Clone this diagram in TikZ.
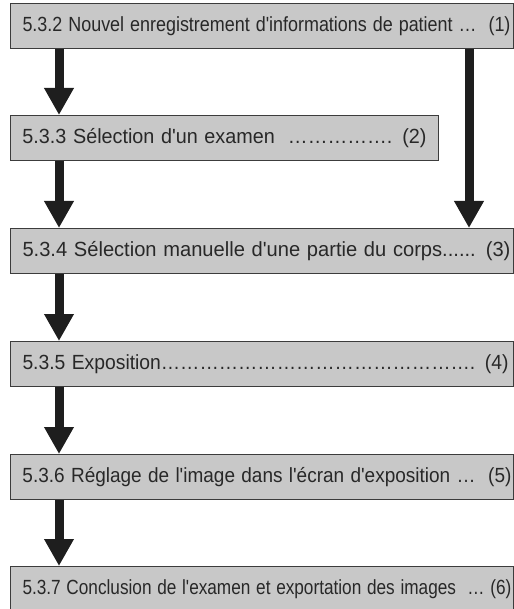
\documentclass[tikz,border=0pt]{standalone}
\usepackage{fontspec}
\usepackage{graphicx}
\setmainfont{Liberation Sans}[Ligatures=TeXOff]
\usetikzlibrary{arrows.meta}
\definecolor{boxfill}{RGB}{200,200,200}
\definecolor{boxline}{RGB}{60,60,60}
\definecolor{txt}{RGB}{40,40,40}
\definecolor{arr}{RGB}{30,30,30}
\newcommand{\fitline}[2]{\resizebox{#1}{\height}{#2}}
\begin{document}
\begin{tikzpicture}[x=1pt,y=-1pt,
  stepbox/.style={draw=boxline, fill=boxfill, line width=1pt, anchor=north west,
    minimum height=45pt, inner xsep=12pt, inner ysep=0pt, text=txt,
    font=\fontsize{20.5}{24}\selectfont, align=left},
  flow/.style={draw=arr, line width=9pt,
    -{Triangle[width=28pt,length=27pt]}}]
\useasboundingbox (0,0) rectangle (513,609);
\node[stepbox, text width=479pt] (b1) at (10,3) {\fitline{488pt}{5.3.2 Nouvel enregistrement d'informations de patient …\ \ (1)}};
\node[stepbox, text width=404pt] (b2) at (10,115) {\fitline{404pt}{5.3.3 Sélection d'un examen\ \ ……………. (2)}};
\node[stepbox, text width=479pt] (b3) at (10,228) {\fitline{488pt}{5.3.4 Sélection manuelle d'une partie du corps...... (3)}};
\node[stepbox, text width=479pt] (b4) at (10,341) {\fitline{486pt}{5.3.5 Exposition…………………………………………. (4)}};
\node[stepbox, text width=479pt] (b5) at (10,454) {\fitline{489pt}{5.3.6 Réglage de l'image dans l'écran d'exposition …\ \ (5)}};
\node[stepbox, text width=479pt] (b6) at (10,566) {\fitline{489pt}{5.3.7 Conclusion de l'examen et exportation des images\ \ … (6)}};
\draw[flow] ([xshift=49pt]b1.south west) -- ([xshift=49pt]b2.north west);
\draw[flow] ([xshift=459pt]b1.south west) -- ([xshift=459pt]b3.north west);
\draw[flow] ([xshift=49pt]b2.south west) -- ([xshift=49pt]b3.north west);
\draw[flow] ([xshift=49pt]b3.south west) -- ([xshift=49pt]b4.north west);
\draw[flow] ([xshift=49pt]b4.south west) -- ([xshift=49pt]b5.north west);
\draw[flow] ([xshift=49pt]b5.south west) -- ([xshift=49pt]b6.north west);
\end{tikzpicture}
\end{document}
